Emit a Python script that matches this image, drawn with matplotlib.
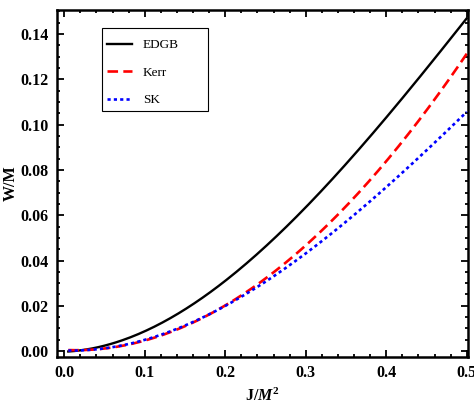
import numpy as np
import matplotlib
matplotlib.use('Agg')
import matplotlib.pyplot as plt
from matplotlib.ticker import MultipleLocator, FormatStrFormatter
from matplotlib.patches import Rectangle

# Points
J_edgb = [0.005, 0.078, 0.1315, 0.169, 0.1935, 0.222, 0.28, 0.335, 0.413, 0.495, 0.5]
W_edgb = [0.0001, 0.0049, 0.0146, 0.0234, 0.0291, 0.0371, 0.0565, 0.0775, 0.1077, 0.145, 0.147]
J_kerr = [0.005, 0.078, 0.1315, 0.1935, 0.21, 0.28, 0.34, 0.376, 0.433, 0.495, 0.5]
W_kerr = [0.0001, 0.0035, 0.0084, 0.0181, 0.0225, 0.041, 0.060, 0.0724, 0.1007, 0.1285, 0.1307]
J_sk = [0.005, 0.078, 0.1315, 0.1935, 0.222, 0.28, 0.34, 0.402, 0.45, 0.495, 0.5]
W_sk = [0.0001, 0.0035, 0.0084, 0.0181, 0.0247, 0.0389, 0.0534, 0.0724, 0.0900, 0.1035, 0.1055]

plt.rcParams['font.family'] = ['Liberation Serif', 'DejaVu Serif']
plt.rcParams['mathtext.fontset'] = 'custom'
plt.rcParams['mathtext.it'] = 'Liberation Serif:italic:bold'
plt.rcParams['mathtext.rm'] = 'Liberation Serif:bold'

fig = plt.figure(figsize=(4.74, 4.05), dpi=100)
ax = fig.add_axes([0.1203, 0.1185, 0.8670, 0.8568])

# smooth curves through the read points
Js = np.linspace(0.005, 0.5, 200)
def smooth(x, y):
    c = np.polyfit(x, y, 3)
    return np.polyval(c, Js)

ax.plot(Js, smooth(J_edgb, W_edgb), color='black', lw=1.7, label='EDGB')
ax.plot(Js, smooth(J_kerr, W_kerr), color='red', lw=1.9, ls=(0, (4, 2)), label='Kerr')
ax.plot(Js, smooth(J_sk, W_sk), color='blue', lw=1.9, ls=(0, (1.2, 1.2)), label='SK')

ax.set_xlim(-0.009, 0.5015)
ax.set_ylim(-0.0026, 0.1506)

ax.xaxis.set_major_locator(MultipleLocator(0.1))
ax.xaxis.set_minor_locator(MultipleLocator(0.02))
ax.yaxis.set_major_locator(MultipleLocator(0.02))
ax.yaxis.set_minor_locator(MultipleLocator(0.005))
ax.xaxis.set_major_formatter(FormatStrFormatter('%.1f'))
ax.yaxis.set_major_formatter(FormatStrFormatter('%.2f'))

ax.tick_params(which='both', direction='in', top=True, right=True, width=1.3)
ax.tick_params(which='major', length=5, labelsize=11.5, pad=6)
ax.tick_params(which='minor', length=2.5)
for lab in ax.get_xticklabels() + ax.get_yticklabels():
    lab.set_fontweight('bold')
for s in ax.spines.values():
    s.set_linewidth(1.8)

ax.set_xlabel(r'J/$M^2$', fontsize=11.5, fontweight='bold', labelpad=4.5)
ax.set_ylabel('W/M', fontsize=11.5, fontweight='bold', labelpad=1)

# legend box drawn separately (wide frame with text on the left)
ax.add_patch(Rectangle((0.109, 0.709), 0.258, 0.239, transform=ax.transAxes,
                       fill=False, edgecolor='black', lw=0.8, zorder=5))
ax.legend(loc='upper left', bbox_to_anchor=(0.1217, 0.916), fontsize=9.5,
          frameon=False, borderaxespad=0, borderpad=0, handlelength=1.9,
          labelspacing=1.15, handletextpad=0.83)

plt.savefig('out.png', dpi=100)
